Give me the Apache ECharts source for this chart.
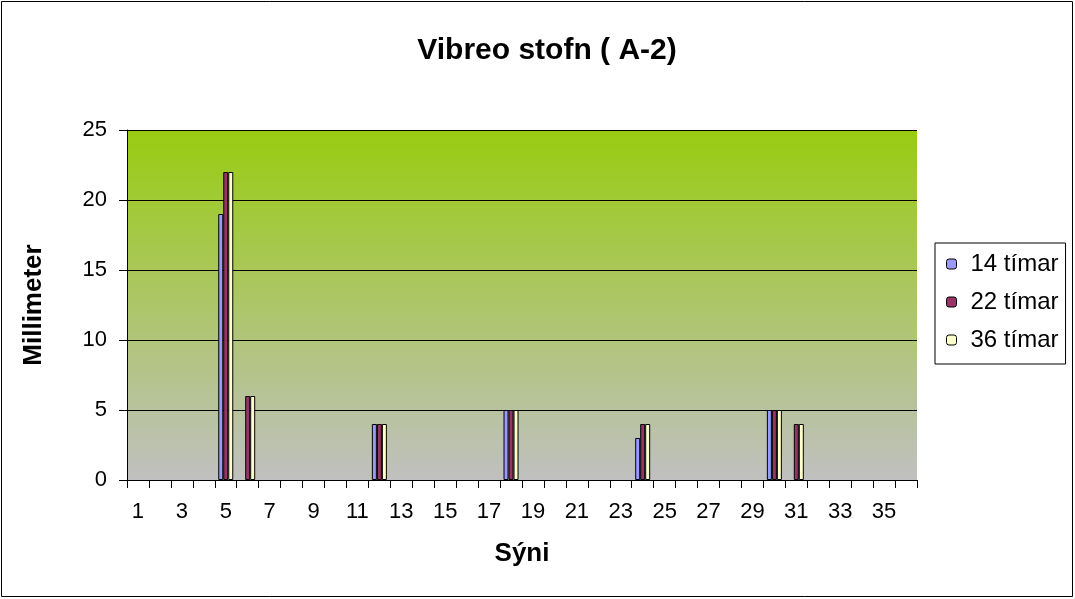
<!DOCTYPE html>
<html><head><meta charset="utf-8">
<script src="https://cdn.jsdelivr.net/npm/echarts@6/dist/echarts.min.js"></script>
<style>html,body{margin:0;padding:0;background:#fff}#c{width:1075px;height:599px;}</style>
</head><body><div id="c"></div>
<script>
const categories = Array.from({length:36},(_,i)=>String(i+1));
const seriesNames = ['14 tímar','22 tímar','36 tímar'];
const s14 = [null,null,null,null,19,null,null,null,null,null,null,4,null,null,null,null,null,5,null,null,null,null,null,3,null,null,null,null,null,5,null,null,null,null,null,null];
const s22 = [null,null,null,null,22,6,null,null,null,null,null,4,null,null,null,null,null,5,null,null,null,null,null,4,null,null,null,null,null,5,4,null,null,null,null,null];
const s36 = [null,null,null,null,22,6,null,null,null,null,null,4,null,null,null,null,null,5,null,null,null,null,null,4,null,null,null,null,null,5,4,null,null,null,null,null];
const colors = ['#9999FF','#993366','#FFFFCC'];
const FONT = 'Liberation Sans, Arial, sans-serif';
const chart = echarts.init(document.getElementById('c'));
const mk = (name, data, i) => ({
  name, type:'bar', data, barWidth:5, barGap:'0%',
  itemStyle:{color:colors[i], borderColor:'#000', borderWidth:1}
});
chart.setOption({
  animation:false,
  backgroundColor:'#fff',
  title:{text:'Vibreo stofn ( A-2)', left:542, textAlign:'center', top:31,
    textStyle:{fontFamily:FONT, fontSize:30, fontWeight:'bold', color:'#000'}},
  graphic:[{type:'rect', shape:{x:1.5,y:1.5,width:1071,height:595}, style:{fill:'none', stroke:'#000', lineWidth:1}, silent:true}],
  legend:{orient:'vertical', left:935, top:243, itemWidth:10, itemHeight:10, itemGap:14,
    padding:[9,7,12,11], borderColor:'#000', borderWidth:1, backgroundColor:'#fff',
    textStyle:{fontFamily:FONT, fontSize:24, color:'#000', padding:[0,0,0,9]},
    data:seriesNames.map((n,i)=>({name:n, itemStyle:{color:colors[i], borderColor:'#000', borderWidth:1}}))},
  grid:{left:127, right:158, top:130, bottom:119, show:true, borderWidth:0,
    backgroundColor:new echarts.graphic.LinearGradient(0,0,0,1,[{offset:0,color:'#99CC11'},{offset:1,color:'#C0C0C0'}])},
  xAxis:{type:'category', data:categories, boundaryGap:true,
    name:'Sýni', nameLocation:'middle', nameGap:61,
    nameTextStyle:{fontFamily:FONT, fontSize:26, fontWeight:'bold', color:'#000'},
    axisLine:{lineStyle:{color:'#000', width:1}},
    axisTick:{show:true, interval:0, length:8, lineStyle:{color:'#000'}},
    axisLabel:{interval:1, margin:21, fontFamily:FONT, fontSize:22, color:'#000'},
    splitLine:{show:false}},
  yAxis:{type:'value', min:0, max:25, interval:5,
    name:'Millimeter', nameLocation:'middle', nameGap:80, nameRotate:90,
    nameTextStyle:{fontFamily:FONT, fontSize:26, fontWeight:'bold', color:'#000'},
    axisLine:{show:true, lineStyle:{color:'#000', width:1}},
    axisTick:{show:true, length:8, lineStyle:{color:'#000'}},
    axisLabel:{margin:20, fontFamily:FONT, fontSize:22, color:'#000'},
    splitLine:{show:true, lineStyle:{color:'#000', width:1}}},
  series:[mk(seriesNames[0], s14, 0), mk(seriesNames[1], s22, 1), mk(seriesNames[2], s36, 2)]
});
</script></body></html>
